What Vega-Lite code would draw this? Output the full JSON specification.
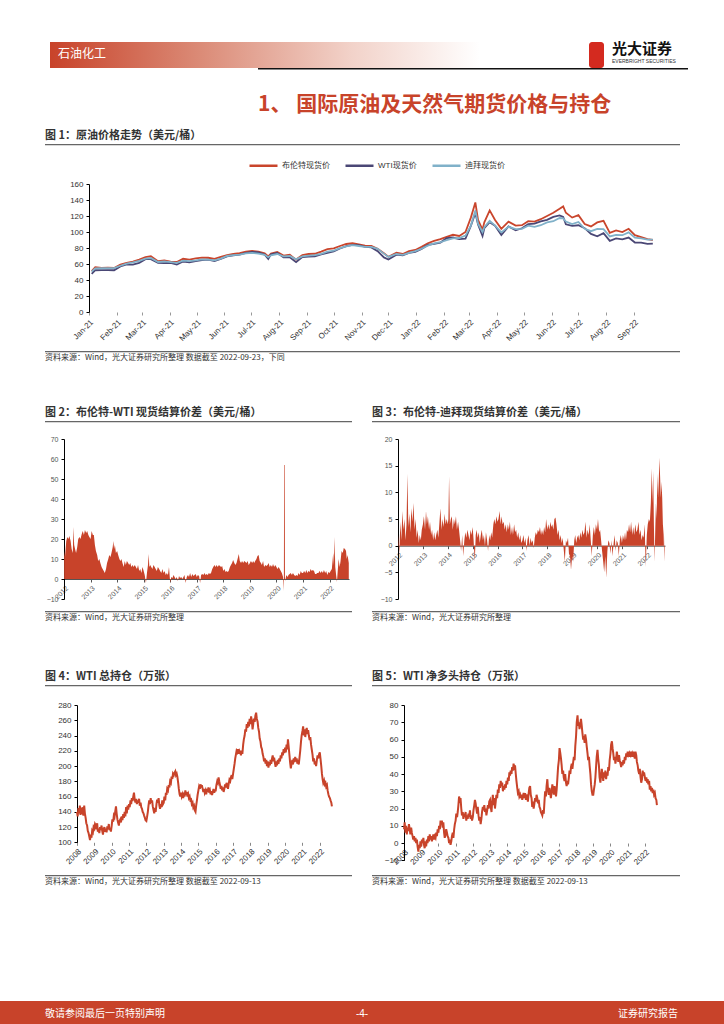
{
"$schema": "https://vega.github.io/schema/vega-lite/v6.json",
"padding": {"left": 0, "top": 42, "right": 0, "bottom": 0},
"background": "white",
"spacing": 0,
"bounds": "flush",
"resolve": {"scale": {"color": "independent"}, "legend": {"color": "independent"}},
"config": {
  "view": {"stroke": null},
  "font": "Liberation Sans, Noto Sans CJK SC",
  "axis": {"labelFont": "Liberation Sans", "grid": false, "title": null, "labelFlush": false, "labelOverlap": false},
  "title": {"font": "Noto Sans CJK SC", "color": "#333333", "fontWeight": "bold", "fontSize": 11, "anchor": "start"}
},
"vconcat": [
  {"hconcat": [
    {"width": 50, "height": 26, "data": {"values": []}, "mark": "point", "encoding": {}},
    {"width": 430, "height": 26, "data": {"values": [{}]},
     "mark": {"type": "rect", "fill": {"gradient": "linear", "x1": 0, "x2": 1, "y1": 0, "y2": 0, "stops": [{"offset": 0, "color": "#c8432a"}, {"offset": 0.35, "color": "#db8b77"}, {"offset": 0.7, "color": "#f2d2c9"}, {"offset": 1, "color": "#ffffff"}]}},
     "encoding": {},
     "title": {"text": "石油化工", "orient": "top", "anchor": "start", "offset": -19, "dx": 8, "color": "#ffffff", "fontSize": 12, "fontWeight": "normal"}},
    {"width": 109, "height": 26, "data": {"values": []}, "mark": "point", "encoding": {}},
    {"width": 15, "height": 26, "data": {"values": []}, "mark": "point", "encoding": {}, "view": {"fill": "#d42a1f", "cornerRadius": 3}},
    {"width": 8, "height": 26, "data": {"values": []}, "mark": "point", "encoding": {}},
    {"width": 72, "height": 26, "data": {"values": []}, "mark": "point", "encoding": {},
     "title": {"text": "光大证券", "subtitle": "EVERBRIGHT SECURITIES", "orient": "top", "anchor": "start", "offset": -22, "fontSize": 15, "color": "#111111", "subtitleFontSize": 5, "subtitleColor": "#333333", "subtitleFont": "Liberation Sans", "subtitlePadding": 2}}
  ], "spacing": 0, "bounds": "flush"},
  {"width": 1, "height": 26, "data": {"values": []}, "mark": "point", "encoding": {}},
  {"hconcat": [
    {"width": 258, "height": 1.5, "data": {"values": []}, "mark": "point", "encoding": {}},
    {"width": 430, "height": 1.5, "data": {"values": []}, "mark": "point", "encoding": {}, "view": {"fill": "#111111"},
     "title": {"text": "1、 国际原油及天然气期货价格与持仓", "orient": "bottom", "anchor": "start", "offset": 24, "fontSize": 21, "color": "#c8432a", "fontWeight": "bold"}}
  ], "spacing": 0, "bounds": "flush"},
  {"width": 1, "height": 76, "data": {"values": []}, "mark": "point", "encoding": {}},
  {"hconcat": [
    {"width": 45, "height": 1.2, "data": {"values": []}, "mark": "point", "encoding": {}},
    {"width": 635, "height": 1.2, "data": {"values": []}, "mark": "point", "encoding": {}, "view": {"fill": "#666666"},
     "title": {"text": "图 1：原油价格走势（美元/桶）", "orient": "top", "offset": 3}}
  ], "spacing": 0, "bounds": "flush"},
  {"width": 1, "height": 39.5, "data": {"values": []}, "mark": "point", "encoding": {}},
  {"hconcat": [
    {"width": 89, "height": 128, "data": {"values": []}, "mark": "point", "encoding": {}},
    {"width": 571, "height": 128,
     "data": {"values": [
{"d":"2021-01-04","b":51.1,"w":47.6,"u":50.5},{"d":"2021-01-08","b":55.9,"w":52.2,"u":54.5},{"d":"2021-01-15","b":55.2,"w":52.4,"u":54.7},{"d":"2021-01-22","b":55.4,"w":52.3,"u":54.9},{"d":"2021-01-29","b":55.0,"w":52.2,"u":54.8},
{"d":"2021-02-05","b":59.3,"w":56.9,"u":57.8},{"d":"2021-02-12","b":61.5,"w":59.5,"u":60.5},{"d":"2021-02-19","b":63.0,"w":59.2,"u":62.0},{"d":"2021-02-26","b":65.5,"w":61.5,"u":63.8},
{"d":"2021-03-05","b":68.5,"w":66.1,"u":66.8},{"d":"2021-03-11","b":69.6,"w":66.0,"u":67.5},{"d":"2021-03-19","b":63.5,"w":61.4,"u":62.5},{"d":"2021-03-26","b":64.5,"w":61.0,"u":63.2},
{"d":"2021-04-02","b":63.0,"w":61.5,"u":62.3},{"d":"2021-04-09","b":62.5,"w":59.3,"u":61.5},{"d":"2021-04-16","b":66.5,"w":63.1,"u":64.2},{"d":"2021-04-23","b":65.5,"w":62.1,"u":63.5},{"d":"2021-04-30","b":67.0,"w":63.6,"u":64.5},
{"d":"2021-05-07","b":68.0,"w":64.9,"u":65.8},{"d":"2021-05-14","b":67.8,"w":65.4,"u":65.5},{"d":"2021-05-21","b":66.5,"w":63.6,"u":64.5},{"d":"2021-05-28","b":69.0,"w":66.3,"u":66.8},
{"d":"2021-06-04","b":71.0,"w":69.6,"u":70.0},{"d":"2021-06-11","b":72.5,"w":70.9,"u":71.0},{"d":"2021-06-18","b":73.5,"w":71.6,"u":71.8},{"d":"2021-06-25","b":75.5,"w":74.0,"u":73.2},
{"d":"2021-07-02","b":76.5,"w":75.2,"u":74.0},{"d":"2021-07-09","b":75.5,"w":74.6,"u":73.0},{"d":"2021-07-16","b":73.5,"w":71.8,"u":71.5},{"d":"2021-07-20","b":69.5,"w":66.4,"u":68.5},{"d":"2021-07-23","b":73.0,"w":72.1,"u":70.8},{"d":"2021-07-30","b":75.0,"w":73.9,"u":72.5},
{"d":"2021-08-06","b":70.5,"w":68.3,"u":69.5},{"d":"2021-08-13","b":71.5,"w":68.4,"u":70.0},{"d":"2021-08-20","b":65.5,"w":62.3,"u":66.0},{"d":"2021-08-27","b":71.0,"w":68.7,"u":69.5},
{"d":"2021-09-03","b":72.5,"w":69.3,"u":70.5},{"d":"2021-09-10","b":72.8,"w":69.7,"u":71.0},{"d":"2021-09-17","b":75.5,"w":72.0,"u":72.8},{"d":"2021-09-24","b":78.5,"w":74.0,"u":75.5},
{"d":"2021-10-01","b":79.5,"w":75.9,"u":76.8},{"d":"2021-10-08","b":82.5,"w":79.4,"u":79.8},{"d":"2021-10-15","b":85.0,"w":82.3,"u":82.0},{"d":"2021-10-22","b":86.0,"w":83.8,"u":83.5},{"d":"2021-10-29","b":84.5,"w":83.6,"u":82.5},
{"d":"2021-11-05","b":83.0,"w":81.3,"u":81.5},{"d":"2021-11-12","b":82.5,"w":80.8,"u":81.5},{"d":"2021-11-19","b":79.0,"w":76.1,"u":79.0},{"d":"2021-11-26","b":73.5,"w":68.2,"u":73.0},
{"d":"2021-12-01","b":69.0,"w":65.6,"u":68.8},{"d":"2021-12-10","b":74.0,"w":71.7,"u":72.5},{"d":"2021-12-17","b":72.5,"w":70.9,"u":71.5},{"d":"2021-12-24","b":76.0,"w":73.8,"u":73.8},{"d":"2021-12-31","b":77.5,"w":75.2,"u":76.0},
{"d":"2022-01-07","b":81.5,"w":78.9,"u":79.0},{"d":"2022-01-14","b":86.0,"w":83.8,"u":83.0},{"d":"2022-01-21","b":89.0,"w":85.1,"u":85.8},{"d":"2022-01-28","b":91.0,"w":86.8,"u":87.2},
{"d":"2022-02-04","b":94.0,"w":92.3,"u":89.8},{"d":"2022-02-11","b":96.5,"w":93.1,"u":92.0},{"d":"2022-02-18","b":95.0,"w":91.1,"u":92.5},{"d":"2022-02-25","b":100.0,"w":91.6,"u":95.5},
{"d":"2022-03-03","b":118.0,"w":107.7,"u":108.0},{"d":"2022-03-08","b":137.0,"w":123.7,"u":127.0},{"d":"2022-03-11","b":115.0,"w":109.3,"u":110.5},{"d":"2022-03-16","b":103.0,"w":95.0,"u":100.0},{"d":"2022-03-18","b":112.0,"w":104.7,"u":106.0},{"d":"2022-03-24","b":127.0,"w":112.3,"u":114.0},{"d":"2022-03-30","b":115.0,"w":107.8,"u":108.0},
{"d":"2022-04-06","b":104.0,"w":96.2,"u":99.5},{"d":"2022-04-14","b":113.0,"w":106.9,"u":106.5},{"d":"2022-04-22","b":108.0,"w":102.1,"u":103.5},{"d":"2022-04-29","b":108.5,"w":104.7,"u":104.0},
{"d":"2022-05-06","b":113.5,"w":109.8,"u":108.0},{"d":"2022-05-13","b":113.0,"w":110.5,"u":106.5},{"d":"2022-05-20","b":116.0,"w":113.2,"u":108.5},{"d":"2022-05-27","b":120.0,"w":115.1,"u":112.0},
{"d":"2022-06-03","b":124.0,"w":118.9,"u":113.5},{"d":"2022-06-10","b":129.0,"w":120.7,"u":117.5},{"d":"2022-06-14","b":132.0,"w":118.9,"u":117.0},{"d":"2022-06-17","b":124.0,"w":109.6,"u":113.0},{"d":"2022-06-24","b":118.0,"w":107.6,"u":110.0},
{"d":"2022-07-01","b":121.0,"w":108.4,"u":112.5},{"d":"2022-07-08","b":110.0,"w":104.8,"u":104.0},{"d":"2022-07-15","b":107.0,"w":97.6,"u":101.0},{"d":"2022-07-22","b":112.0,"w":94.7,"u":104.0},{"d":"2022-07-29","b":114.0,"w":98.6,"u":103.5},
{"d":"2022-08-05","b":99.0,"w":89.0,"u":94.5},{"d":"2022-08-12","b":102.0,"w":92.1,"u":96.5},{"d":"2022-08-19","b":100.0,"w":90.8,"u":96.0},{"d":"2022-08-26","b":104.0,"w":93.1,"u":99.5},
{"d":"2022-09-02","b":96.0,"w":86.9,"u":93.0},{"d":"2022-09-09","b":93.5,"w":86.8,"u":92.0},{"d":"2022-09-16","b":91.0,"w":85.1,"u":90.5},{"d":"2022-09-22","b":90.0,"w":85.5,"u":90.5}
     ]},
     "transform": [{"fold": ["b", "w", "u"], "as": ["s", "p"]}],
     "mark": {"type": "line", "strokeWidth": 1.8},
     "encoding": {
       "x": {"field": "d", "type": "temporal", "scale": {"type": "utc", "domain": ["2021-01-01", "2022-09-30"]},
             "axis": {"format": "%b-%y", "tickCount": {"interval": "month", "step": 1}, "labelAngle": -45, "labelAlign": "right", "labelBaseline": "top", "domain": false, "ticks": true, "tickSize": 3, "tickColor": "#999999", "labelFontSize": 8, "labelColor": "#333333", "labelPadding": 3}},
       "y": {"field": "p", "type": "quantitative", "scale": {"domain": [0, 160]},
             "axis": {"values": [0, 20, 40, 60, 80, 100, 120, 140, 160], "domain": true, "domainColor": "#000000", "ticks": true, "tickSize": 3, "tickColor": "#000000", "labelFontSize": 8, "labelColor": "#333333", "labelPadding": 3}},
       "color": {"field": "s", "type": "nominal", "scale": {"domain": ["b", "w", "u"], "range": ["#c9452c", "#4a4775", "#80b1c9"]},
             "legend": {"orient": "none", "legendX": 159, "legendY": -34, "direction": "horizontal", "title": null, "symbolType": "stroke", "symbolSize": 784, "symbolStrokeWidth": 2.5, "labelFontSize": 8, "labelColor": "#333333", "labelFont": "Liberation Sans, Noto Sans CJK SC", "columnPadding": 10, "labelOffset": 3,
                        "labelExpr": "datum.label == 'b' ? '布伦特现货价' : datum.label == 'w' ? 'WTI现货价' : '迪拜现货价'"}}
     }}
  ], "spacing": 0, "bounds": "flush", "resolve": {"scale": {"color": "independent"}, "legend": {"color": "independent"}}},
  {"width": 1, "height": 166.5, "data": {"values": []}, "mark": "point", "encoding": {}},
  {"hconcat": [
    {"width": 45, "height": 1.2, "data": {"values": []}, "mark": "point", "encoding": {}},
    {"width": 635, "height": 1.2, "data": {"values": []}, "mark": "point", "encoding": {}, "view": {"fill": "#666666"},
     "title": {"text": "资料来源：Wind，光大证券研究所整理 数据截至 2022-09-23，下同", "orient": "bottom", "offset": 2, "fontSize": 8, "fontWeight": "normal", "color": "#333333"}}
  ], "spacing": 0, "bounds": "flush"},
  {"width": 1, "height": 69.5, "data": {"values": []}, "mark": "point", "encoding": {}},
  {"hconcat": [
    {"width": 45, "height": 1.2, "data": {"values": []}, "mark": "point", "encoding": {}},
    {"width": 307, "height": 1.2, "data": {"values": []}, "mark": "point", "encoding": {}, "view": {"fill": "#666666"},
     "title": {"text": "图 2：布伦特-WTI 现货结算价差（美元/桶）", "orient": "top", "offset": 3}},
    {"width": 20, "height": 1.2, "data": {"values": []}, "mark": "point", "encoding": {}},
    {"width": 308, "height": 1.2, "data": {"values": []}, "mark": "point", "encoding": {}, "view": {"fill": "#666666"},
     "title": {"text": "图 3：布伦特-迪拜现货结算价差（美元/桶）", "orient": "top", "offset": 3}}
  ], "spacing": 0, "bounds": "flush"},
  {"width": 1, "height": 17.5, "data": {"values": []}, "mark": "point", "encoding": {}},
  {"hconcat": [
    {"width": 64, "height": 160, "data": {"values": []}, "mark": "point", "encoding": {}},
    {"width": 285, "height": 160,
     "data": {"values": [
{"d":"2012-01-03","v":14},{"d":"2012-01-15","v":11},{"d":"2012-02-01","v":19},{"d":"2012-02-15","v":21},{"d":"2012-03-01","v":20},{"d":"2012-03-15","v":21.5},{"d":"2012-04-01","v":19},{"d":"2012-04-15","v":15},{"d":"2012-05-01","v":13},{"d":"2012-05-10","v":26},{"d":"2012-05-20","v":17},{"d":"2012-06-01","v":15},{"d":"2012-06-15","v":13},{"d":"2012-07-01","v":16},{"d":"2012-07-15","v":20},{"d":"2012-08-01","v":21},{"d":"2012-08-15","v":20},{"d":"2012-09-01","v":22.5},{"d":"2012-09-15","v":24},{"d":"2012-10-01","v":22},{"d":"2012-10-15","v":24.5},{"d":"2012-11-01","v":23},{"d":"2012-11-15","v":24},{"d":"2012-12-01","v":22},{"d":"2012-12-15","v":21},
{"d":"2013-01-01","v":20},{"d":"2013-01-15","v":24},{"d":"2013-02-01","v":22},{"d":"2013-02-15","v":22},{"d":"2013-03-01","v":17},{"d":"2013-03-15","v":14},{"d":"2013-04-01","v":12},{"d":"2013-04-15","v":9},{"d":"2013-05-01","v":10},{"d":"2013-05-15","v":8},{"d":"2013-06-01","v":6},{"d":"2013-06-15","v":5},{"d":"2013-07-01","v":4},{"d":"2013-07-15","v":3},{"d":"2013-08-01","v":5},{"d":"2013-08-15","v":8},{"d":"2013-09-01","v":10},{"d":"2013-09-15","v":12},{"d":"2013-10-01","v":11},{"d":"2013-10-15","v":13},{"d":"2013-11-01","v":16},{"d":"2013-11-10","v":19},{"d":"2013-11-20","v":15},{"d":"2013-12-01","v":17},{"d":"2013-12-15","v":13},
{"d":"2014-01-01","v":14},{"d":"2014-01-15","v":12},{"d":"2014-02-01","v":10},{"d":"2014-02-15","v":9},{"d":"2014-03-01","v":10},{"d":"2014-03-15","v":8},{"d":"2014-04-01","v":6},{"d":"2014-04-15","v":9},{"d":"2014-05-01","v":7},{"d":"2014-05-15","v":9},{"d":"2014-06-01","v":8},{"d":"2014-06-15","v":7},{"d":"2014-07-01","v":8},{"d":"2014-07-15","v":6},{"d":"2014-08-01","v":7},{"d":"2014-08-15","v":6},{"d":"2014-09-01","v":7},{"d":"2014-09-15","v":6},{"d":"2014-10-01","v":5},{"d":"2014-10-15","v":7},{"d":"2014-11-01","v":4},{"d":"2014-11-15","v":5},{"d":"2014-12-01","v":3},{"d":"2014-12-15","v":6},
{"d":"2015-01-01","v":4},{"d":"2015-01-15","v":2},{"d":"2015-02-01","v":-2},{"d":"2015-02-15","v":3},{"d":"2015-03-01","v":7},{"d":"2015-03-10","v":12.5},{"d":"2015-03-20","v":6},{"d":"2015-04-01","v":7},{"d":"2015-04-15","v":6},{"d":"2015-05-01","v":5},{"d":"2015-05-15","v":7},{"d":"2015-06-01","v":6},{"d":"2015-06-15","v":5},{"d":"2015-07-01","v":4},{"d":"2015-07-15","v":6},{"d":"2015-08-01","v":5},{"d":"2015-08-15","v":4},{"d":"2015-09-01","v":3},{"d":"2015-09-15","v":5},{"d":"2015-10-01","v":3},{"d":"2015-10-15","v":4},{"d":"2015-11-01","v":2},{"d":"2015-11-15","v":3},{"d":"2015-12-01","v":2},{"d":"2015-12-15","v":6},
{"d":"2016-01-01","v":-2},{"d":"2016-01-15","v":1},{"d":"2016-02-01","v":0.5},{"d":"2016-02-15","v":2},{"d":"2016-03-01","v":1},{"d":"2016-03-15","v":0},{"d":"2016-04-01","v":1},{"d":"2016-04-15","v":-1},{"d":"2016-05-01","v":1.5},{"d":"2016-05-15","v":0.5},{"d":"2016-06-01","v":1},{"d":"2016-06-15","v":0},{"d":"2016-07-01","v":1},{"d":"2016-07-15","v":2},{"d":"2016-08-01","v":-2},{"d":"2016-08-15","v":1},{"d":"2016-09-01","v":2},{"d":"2016-09-15","v":1},{"d":"2016-10-01","v":3},{"d":"2016-10-15","v":1},{"d":"2016-11-01","v":2.5},{"d":"2016-11-15","v":1.5},{"d":"2016-12-01","v":2},{"d":"2016-12-15","v":2.5},
{"d":"2017-01-01","v":1},{"d":"2017-01-15","v":2},{"d":"2017-02-01","v":1.5},{"d":"2017-02-15","v":-2},{"d":"2017-03-01","v":2},{"d":"2017-03-15","v":2.5},{"d":"2017-04-01","v":2},{"d":"2017-04-15","v":3},{"d":"2017-05-01","v":2},{"d":"2017-05-15","v":2.5},{"d":"2017-06-01","v":2},{"d":"2017-06-15","v":3},{"d":"2017-07-01","v":2.5},{"d":"2017-07-15","v":3},{"d":"2017-08-01","v":5},{"d":"2017-08-15","v":6},{"d":"2017-09-01","v":7},{"d":"2017-09-15","v":6},{"d":"2017-10-01","v":7},{"d":"2017-10-15","v":6},{"d":"2017-11-01","v":7},{"d":"2017-11-15","v":6.5},{"d":"2017-12-01","v":6},{"d":"2017-12-15","v":6.5},
{"d":"2018-01-01","v":4},{"d":"2018-01-15","v":5},{"d":"2018-02-01","v":3.5},{"d":"2018-02-15","v":4},{"d":"2018-03-01","v":3.5},{"d":"2018-03-15","v":4},{"d":"2018-04-01","v":6},{"d":"2018-04-15","v":7},{"d":"2018-05-01","v":8},{"d":"2018-05-15","v":9.5},{"d":"2018-06-01","v":8},{"d":"2018-06-15","v":7},{"d":"2018-07-01","v":8},{"d":"2018-07-15","v":10},{"d":"2018-08-01","v":12.5},{"d":"2018-08-15","v":9},{"d":"2018-09-01","v":8},{"d":"2018-09-15","v":9},{"d":"2018-10-01","v":8},{"d":"2018-10-15","v":9},{"d":"2018-11-01","v":8.5},{"d":"2018-11-15","v":8},{"d":"2018-12-01","v":9},{"d":"2018-12-15","v":7},
{"d":"2019-01-01","v":8},{"d":"2019-01-15","v":9},{"d":"2019-02-01","v":8},{"d":"2019-02-15","v":9},{"d":"2019-03-01","v":8},{"d":"2019-03-15","v":9},{"d":"2019-04-01","v":10},{"d":"2019-04-15","v":11.5},{"d":"2019-05-01","v":12},{"d":"2019-05-15","v":9},{"d":"2019-06-01","v":8},{"d":"2019-06-15","v":7},{"d":"2019-07-01","v":9},{"d":"2019-07-15","v":6},{"d":"2019-08-01","v":7},{"d":"2019-08-15","v":6.5},{"d":"2019-09-01","v":7},{"d":"2019-09-15","v":8},{"d":"2019-10-01","v":6},{"d":"2019-10-15","v":7},{"d":"2019-11-01","v":6},{"d":"2019-11-15","v":7.5},{"d":"2019-12-01","v":6},{"d":"2019-12-15","v":7},
{"d":"2020-01-01","v":6},{"d":"2020-01-15","v":5},{"d":"2020-02-01","v":6},{"d":"2020-02-15","v":5},{"d":"2020-03-01","v":4},{"d":"2020-03-15","v":3},{"d":"2020-04-01","v":1},{"d":"2020-04-12","v":-6},{"d":"2020-04-16","v":57},{"d":"2020-04-24","v":57},{"d":"2020-04-27","v":1},{"d":"2020-05-01","v":-1},{"d":"2020-05-15","v":2},{"d":"2020-06-01","v":1},{"d":"2020-06-15","v":2},{"d":"2020-07-01","v":2.5},{"d":"2020-07-15","v":3},{"d":"2020-08-01","v":2},{"d":"2020-08-15","v":3},{"d":"2020-09-01","v":2},{"d":"2020-09-15","v":1.5},{"d":"2020-10-01","v":2},{"d":"2020-10-15","v":1.5},{"d":"2020-11-01","v":3},{"d":"2020-11-15","v":2},{"d":"2020-12-01","v":4},{"d":"2020-12-15","v":3},
{"d":"2021-01-01","v":3},{"d":"2021-01-15","v":4},{"d":"2021-02-01","v":3},{"d":"2021-02-15","v":4.5},{"d":"2021-03-01","v":3},{"d":"2021-03-15","v":4},{"d":"2021-04-01","v":3.5},{"d":"2021-04-15","v":5},{"d":"2021-05-01","v":4},{"d":"2021-05-15","v":4.5},{"d":"2021-06-01","v":4},{"d":"2021-06-15","v":2.5},{"d":"2021-07-01","v":2.5},{"d":"2021-07-15","v":3},{"d":"2021-08-01","v":3},{"d":"2021-08-15","v":4},{"d":"2021-09-01","v":3},{"d":"2021-09-15","v":4},{"d":"2021-10-01","v":3},{"d":"2021-10-15","v":4.5},{"d":"2021-11-01","v":3},{"d":"2021-11-15","v":4},{"d":"2021-12-01","v":2},{"d":"2021-12-15","v":3.5},
{"d":"2022-01-01","v":3},{"d":"2022-01-15","v":4},{"d":"2022-02-01","v":5},{"d":"2022-02-20","v":13},{"d":"2022-03-01","v":7},{"d":"2022-03-10","v":21},{"d":"2022-03-20","v":6},{"d":"2022-04-01","v":2},{"d":"2022-04-12","v":-1.5},{"d":"2022-04-25","v":5},{"d":"2022-05-05","v":10},{"d":"2022-05-20","v":6},{"d":"2022-06-01","v":9},{"d":"2022-06-15","v":14},{"d":"2022-07-01","v":13},{"d":"2022-07-15","v":15.5},{"d":"2022-08-01","v":15},{"d":"2022-08-15","v":14},{"d":"2022-08-25","v":10},{"d":"2022-09-05","v":12},{"d":"2022-09-22","v":8}
     ]},
     "mark": {"type": "area", "color": "#c8432a"},
     "encoding": {
       "x": {"field": "d", "type": "temporal", "scale": {"type": "utc", "domain": ["2012-01-01", "2022-09-25"]},
             "axis": {"format": "%Y", "tickCount": {"interval": "year", "step": 1}, "labelAngle": -45, "labelAlign": "right", "labelBaseline": "top", "offset": -20, "domain": true, "domainColor": "#555555", "ticks": true, "tickSize": 3, "tickColor": "#555555", "labelFontSize": 7, "labelColor": "#555555", "labelPadding": 2}},
       "y": {"field": "v", "type": "quantitative", "scale": {"domain": [-10, 70]},
             "axis": {"values": [-10, 0, 10, 20, 30, 40, 50, 60, 70], "domain": true, "domainColor": "#000000", "ticks": true, "tickSize": 3, "tickColor": "#000000", "labelFontSize": 7, "labelColor": "#555555", "labelPadding": 3}},
       "y2": {"datum": 0}
     }},
    {"width": 49, "height": 160, "data": {"values": []}, "mark": "point", "encoding": {}},
    {"width": 267, "height": 160,
     "data": {"values": [
{"d":"2012-01-05","v":2},{"d":"2012-01-20","v":-1.5},{"d":"2012-02-05","v":4.5},{"d":"2012-02-20","v":1},{"d":"2012-03-05","v":6.5},{"d":"2012-03-20","v":3},{"d":"2012-04-05","v":5},{"d":"2012-04-20","v":1},{"d":"2012-05-05","v":4},{"d":"2012-05-18","v":13.5},{"d":"2012-06-01","v":3.5},{"d":"2012-06-15","v":6},{"d":"2012-07-01","v":2.5},{"d":"2012-07-15","v":7},{"d":"2012-08-01","v":4.5},{"d":"2012-08-15","v":8},{"d":"2012-09-01","v":3},{"d":"2012-09-15","v":5},{"d":"2012-10-01","v":1.5},{"d":"2012-10-15","v":3},{"d":"2012-11-01","v":0.5},{"d":"2012-11-15","v":2},{"d":"2012-12-01","v":1},{"d":"2012-12-15","v":3},
{"d":"2013-01-01","v":4},{"d":"2013-01-15","v":5.5},{"d":"2013-02-01","v":3},{"d":"2013-02-15","v":6.5},{"d":"2013-03-01","v":4},{"d":"2013-03-15","v":5.5},{"d":"2013-04-01","v":3},{"d":"2013-04-15","v":4.5},{"d":"2013-05-01","v":2},{"d":"2013-05-15","v":3},{"d":"2013-06-01","v":1},{"d":"2013-06-15","v":2.5},{"d":"2013-07-01","v":1},{"d":"2013-07-15","v":2},{"d":"2013-08-01","v":3},{"d":"2013-08-15","v":1.5},{"d":"2013-09-01","v":4.5},{"d":"2013-09-15","v":7},{"d":"2013-10-01","v":3},{"d":"2013-10-15","v":5},{"d":"2013-11-01","v":3.5},{"d":"2013-11-15","v":6},{"d":"2013-12-01","v":4},{"d":"2013-12-15","v":5},
{"d":"2014-01-01","v":4},{"d":"2014-01-10","v":5},{"d":"2014-01-20","v":13},{"d":"2014-02-01","v":4},{"d":"2014-02-15","v":5},{"d":"2014-03-01","v":5.5},{"d":"2014-03-15","v":3},{"d":"2014-04-01","v":5},{"d":"2014-04-15","v":4},{"d":"2014-05-01","v":5.5},{"d":"2014-05-15","v":3},{"d":"2014-06-01","v":4.5},{"d":"2014-06-15","v":3},{"d":"2014-07-01","v":1},{"d":"2014-07-15","v":-1},{"d":"2014-08-01","v":2},{"d":"2014-08-15","v":-2},{"d":"2014-09-01","v":1},{"d":"2014-09-15","v":2.5},{"d":"2014-10-01","v":1.5},{"d":"2014-10-15","v":3},{"d":"2014-11-01","v":2},{"d":"2014-11-15","v":1},{"d":"2014-12-01","v":3},{"d":"2014-12-15","v":2},
{"d":"2015-01-01","v":3.5},{"d":"2015-01-15","v":1},{"d":"2015-02-01","v":-3},{"d":"2015-02-15","v":2},{"d":"2015-03-01","v":3},{"d":"2015-03-15","v":1.5},{"d":"2015-04-01","v":2.5},{"d":"2015-04-15","v":0.5},{"d":"2015-05-01","v":2},{"d":"2015-05-15","v":3},{"d":"2015-06-01","v":1},{"d":"2015-06-15","v":2},{"d":"2015-07-01","v":0},{"d":"2015-07-15","v":2.5},{"d":"2015-08-01","v":1},{"d":"2015-08-15","v":-1},{"d":"2015-09-01","v":2},{"d":"2015-09-15","v":1},{"d":"2015-10-01","v":2.5},{"d":"2015-10-15","v":1.5},{"d":"2015-11-01","v":4},{"d":"2015-11-15","v":5},{"d":"2015-12-01","v":4},{"d":"2015-12-15","v":5.5},
{"d":"2016-01-01","v":4.5},{"d":"2016-01-15","v":5},{"d":"2016-02-01","v":6.5},{"d":"2016-02-15","v":4},{"d":"2016-03-01","v":5.5},{"d":"2016-03-15","v":4},{"d":"2016-04-01","v":4.5},{"d":"2016-04-15","v":3},{"d":"2016-05-01","v":4},{"d":"2016-05-15","v":2.5},{"d":"2016-06-01","v":4},{"d":"2016-06-15","v":3},{"d":"2016-07-01","v":4.5},{"d":"2016-07-15","v":2},{"d":"2016-08-01","v":3.5},{"d":"2016-08-15","v":2},{"d":"2016-09-01","v":4},{"d":"2016-09-15","v":2.5},{"d":"2016-10-01","v":3},{"d":"2016-10-15","v":1.5},{"d":"2016-11-01","v":2.5},{"d":"2016-11-15","v":1},{"d":"2016-12-01","v":2},{"d":"2016-12-15","v":0.5},
{"d":"2017-01-01","v":1},{"d":"2017-01-15","v":2},{"d":"2017-02-01","v":0.5},{"d":"2017-02-15","v":1.5},{"d":"2017-03-01","v":-1},{"d":"2017-03-15","v":1},{"d":"2017-04-01","v":2},{"d":"2017-04-15","v":0},{"d":"2017-05-01","v":1.5},{"d":"2017-05-15","v":0.5},{"d":"2017-06-01","v":1},{"d":"2017-06-15","v":-0.5},{"d":"2017-07-01","v":1.5},{"d":"2017-07-15","v":2.5},{"d":"2017-08-01","v":2},{"d":"2017-08-15","v":3},{"d":"2017-09-01","v":2.5},{"d":"2017-09-15","v":3.5},{"d":"2017-10-01","v":2},{"d":"2017-10-15","v":3},{"d":"2017-11-01","v":2},{"d":"2017-11-15","v":3.5},{"d":"2017-12-01","v":2.5},{"d":"2017-12-15","v":5},
{"d":"2018-01-01","v":3},{"d":"2018-01-15","v":4},{"d":"2018-02-01","v":3},{"d":"2018-02-15","v":4.5},{"d":"2018-03-01","v":3.5},{"d":"2018-03-15","v":4},{"d":"2018-04-01","v":3},{"d":"2018-04-15","v":5},{"d":"2018-05-01","v":5.3},{"d":"2018-05-15","v":4},{"d":"2018-06-01","v":2},{"d":"2018-06-15","v":3},{"d":"2018-07-01","v":1},{"d":"2018-07-15","v":2},{"d":"2018-08-01","v":0.5},{"d":"2018-08-15","v":1.5},{"d":"2018-09-01","v":-1},{"d":"2018-09-15","v":-3},{"d":"2018-10-01","v":1},{"d":"2018-10-15","v":0.5},{"d":"2018-11-01","v":1.5},{"d":"2018-11-15","v":-1.5},{"d":"2018-12-01","v":-2},{"d":"2018-12-15","v":-4.5},
{"d":"2019-01-01","v":-2},{"d":"2019-01-15","v":-3},{"d":"2019-02-01","v":1},{"d":"2019-02-15","v":2},{"d":"2019-03-01","v":0.5},{"d":"2019-03-15","v":1.5},{"d":"2019-04-01","v":2},{"d":"2019-04-15","v":1},{"d":"2019-05-01","v":2.5},{"d":"2019-05-15","v":1.5},{"d":"2019-06-01","v":3},{"d":"2019-06-15","v":2},{"d":"2019-07-01","v":2.5},{"d":"2019-07-15","v":4.5},{"d":"2019-08-01","v":1.5},{"d":"2019-08-15","v":3},{"d":"2019-09-01","v":2},{"d":"2019-09-15","v":4},{"d":"2019-10-01","v":1},{"d":"2019-10-15","v":-2},{"d":"2019-11-01","v":2},{"d":"2019-11-15","v":3.5},{"d":"2019-12-01","v":2},{"d":"2019-12-15","v":4},
{"d":"2020-01-01","v":3},{"d":"2020-01-15","v":5},{"d":"2020-02-01","v":2.5},{"d":"2020-02-15","v":3},{"d":"2020-03-01","v":1},{"d":"2020-03-15","v":-1},{"d":"2020-04-01","v":-3},{"d":"2020-04-15","v":-5},{"d":"2020-05-01","v":-2},{"d":"2020-05-15","v":-6},{"d":"2020-06-01","v":-1},{"d":"2020-06-15","v":1},{"d":"2020-07-01","v":0.5},{"d":"2020-07-15","v":-1.5},{"d":"2020-08-01","v":1},{"d":"2020-08-15","v":-2},{"d":"2020-09-01","v":0.5},{"d":"2020-09-15","v":2},{"d":"2020-10-01","v":-1},{"d":"2020-10-15","v":1},{"d":"2020-11-01","v":0.5},{"d":"2020-11-15","v":-2},{"d":"2020-12-01","v":1},{"d":"2020-12-15","v":2},
{"d":"2021-01-01","v":0.5},{"d":"2021-01-15","v":2},{"d":"2021-02-01","v":1},{"d":"2021-02-15","v":2.5},{"d":"2021-03-01","v":1},{"d":"2021-03-15","v":3},{"d":"2021-04-01","v":2.5},{"d":"2021-04-15","v":4},{"d":"2021-05-01","v":2.5},{"d":"2021-05-15","v":4.5},{"d":"2021-06-01","v":2},{"d":"2021-06-15","v":3.5},{"d":"2021-07-01","v":2},{"d":"2021-07-15","v":4},{"d":"2021-08-01","v":2.5},{"d":"2021-08-15","v":3},{"d":"2021-09-01","v":4.5},{"d":"2021-09-15","v":2},{"d":"2021-10-01","v":3},{"d":"2021-10-15","v":1},{"d":"2021-11-01","v":2},{"d":"2021-11-15","v":1.5},{"d":"2021-12-01","v":4},{"d":"2021-12-15","v":-4},
{"d":"2022-01-01","v":2},{"d":"2022-01-15","v":4},{"d":"2022-02-01","v":5},{"d":"2022-02-15","v":4.5},{"d":"2022-03-01","v":8},{"d":"2022-03-15","v":14.5},{"d":"2022-03-25","v":8},{"d":"2022-04-05","v":14},{"d":"2022-04-15","v":4},{"d":"2022-04-25","v":-3},{"d":"2022-05-05","v":3},{"d":"2022-05-15","v":8},{"d":"2022-05-25","v":5},{"d":"2022-06-05","v":13.5},{"d":"2022-06-15","v":9},{"d":"2022-06-25","v":12},{"d":"2022-07-05","v":16.5},{"d":"2022-07-15","v":13},{"d":"2022-07-25","v":9},{"d":"2022-08-05","v":12},{"d":"2022-08-15","v":9},{"d":"2022-08-25","v":4},{"d":"2022-09-05","v":2},{"d":"2022-09-15","v":-3},{"d":"2022-09-22","v":2}
     ]},
     "mark": {"type": "area", "color": "#c8432a"},
     "encoding": {
       "x": {"field": "d", "type": "temporal", "scale": {"type": "utc", "domain": ["2012-01-01", "2022-09-25"]},
             "axis": {"format": "%Y", "tickCount": {"interval": "year", "step": 1}, "labelAngle": -45, "labelAlign": "right", "labelBaseline": "top", "offset": -53.3, "domain": true, "domainColor": "#555555", "ticks": true, "tickSize": 3, "tickColor": "#555555", "labelFontSize": 7, "labelColor": "#555555", "labelPadding": 2}},
       "y": {"field": "v", "type": "quantitative", "scale": {"domain": [-10, 20]},
             "axis": {"values": [-10, -5, 0, 5, 10, 15, 20], "domain": true, "domainColor": "#000000", "ticks": true, "tickSize": 3, "tickColor": "#000000", "labelFontSize": 7, "labelColor": "#555555", "labelPadding": 3}},
       "y2": {"datum": 0}
     }}
  ], "spacing": 0, "bounds": "flush"},
  {"width": 1, "height": 172, "data": {"values": []}, "mark": "point", "encoding": {}},
  {"hconcat": [
    {"width": 45, "height": 1.2, "data": {"values": []}, "mark": "point", "encoding": {}},
    {"width": 307, "height": 1.2, "data": {"values": []}, "mark": "point", "encoding": {}, "view": {"fill": "#666666"},
     "title": {"text": "资料来源：Wind，光大证券研究所整理", "orient": "bottom", "offset": 2, "fontSize": 8, "fontWeight": "normal", "color": "#333333"}},
    {"width": 20, "height": 1.2, "data": {"values": []}, "mark": "point", "encoding": {}},
    {"width": 308, "height": 1.2, "data": {"values": []}, "mark": "point", "encoding": {}, "view": {"fill": "#666666"},
     "title": {"text": "资料来源：Wind，光大证券研究所整理", "orient": "bottom", "offset": 2, "fontSize": 8, "fontWeight": "normal", "color": "#333333"}}
  ], "spacing": 0, "bounds": "flush"},
  {"width": 1, "height": 73.5, "data": {"values": []}, "mark": "point", "encoding": {}},
  {"hconcat": [
    {"width": 45, "height": 1.2, "data": {"values": []}, "mark": "point", "encoding": {}},
    {"width": 307, "height": 1.2, "data": {"values": []}, "mark": "point", "encoding": {}, "view": {"fill": "#666666"},
     "title": {"text": "图 4：WTI 总持仓（万张）", "orient": "top", "offset": 3}},
    {"width": 20, "height": 1.2, "data": {"values": []}, "mark": "point", "encoding": {}},
    {"width": 308, "height": 1.2, "data": {"values": []}, "mark": "point", "encoding": {}, "view": {"fill": "#666666"},
     "title": {"text": "图 5：WTI 净多头持仓（万张）", "orient": "top", "offset": 3}}
  ], "spacing": 0, "bounds": "flush"},
  {"width": 1, "height": 19.5, "data": {"values": []}, "mark": "point", "encoding": {}},
  {"hconcat": [
    {"width": 77, "height": 155.3, "data": {"values": []}, "mark": "point", "encoding": {}},
    {"width": 255, "height": 137.3,
     "data": {"values": [
{"d":"2008-01-01","v":140},{"d":"2008-01-15","v":134},{"d":"2008-02-01","v":145},{"d":"2008-02-15","v":138},{"d":"2008-03-01","v":148},{"d":"2008-03-15","v":136},{"d":"2008-04-01","v":142},{"d":"2008-04-15","v":140},{"d":"2008-05-01","v":146},{"d":"2008-05-15","v":135},{"d":"2008-06-01","v":148},{"d":"2008-06-15","v":138},{"d":"2008-07-01","v":132},{"d":"2008-07-15","v":125},{"d":"2008-08-01","v":122},{"d":"2008-08-15","v":115},{"d":"2008-09-01","v":112},{"d":"2008-09-15","v":108},{"d":"2008-10-01","v":103},{"d":"2008-10-15","v":110},{"d":"2008-11-01","v":106},{"d":"2008-11-15","v":115},{"d":"2008-12-01","v":113},{"d":"2008-12-15","v":120},
{"d":"2009-01-01","v":118},{"d":"2009-01-15","v":124},{"d":"2009-02-01","v":122},{"d":"2009-02-15","v":117},{"d":"2009-03-01","v":125},{"d":"2009-03-15","v":114},{"d":"2009-04-01","v":118},{"d":"2009-04-15","v":112},{"d":"2009-05-01","v":120},{"d":"2009-05-15","v":116},{"d":"2009-06-01","v":122},{"d":"2009-06-15","v":115},{"d":"2009-07-01","v":110},{"d":"2009-07-15","v":117},{"d":"2009-08-01","v":120},{"d":"2009-08-15","v":114},{"d":"2009-09-01","v":118},{"d":"2009-09-15","v":113},{"d":"2009-10-01","v":121},{"d":"2009-10-15","v":117},{"d":"2009-11-01","v":124},{"d":"2009-11-15","v":116},{"d":"2009-12-01","v":119},{"d":"2009-12-15","v":114},
{"d":"2010-01-01","v":122},{"d":"2010-01-15","v":130},{"d":"2010-02-01","v":127},{"d":"2010-02-15","v":135},{"d":"2010-03-01","v":133},{"d":"2010-03-15","v":140},{"d":"2010-04-01","v":147},{"d":"2010-04-15","v":138},{"d":"2010-05-01","v":130},{"d":"2010-05-15","v":126},{"d":"2010-06-01","v":122},{"d":"2010-06-15","v":128},{"d":"2010-07-01","v":130},{"d":"2010-07-15","v":126},{"d":"2010-08-01","v":134},{"d":"2010-08-15","v":129},{"d":"2010-09-01","v":137},{"d":"2010-09-15","v":132},{"d":"2010-10-01","v":140},{"d":"2010-10-15","v":134},{"d":"2010-11-01","v":146},{"d":"2010-11-15","v":138},{"d":"2010-12-01","v":148},{"d":"2010-12-15","v":143},
{"d":"2011-01-01","v":150},{"d":"2011-01-15","v":146},{"d":"2011-02-01","v":155},{"d":"2011-02-15","v":150},{"d":"2011-03-01","v":158},{"d":"2011-03-15","v":154},{"d":"2011-04-01","v":160},{"d":"2011-04-15","v":165},{"d":"2011-05-01","v":156},{"d":"2011-05-15","v":152},{"d":"2011-06-01","v":157},{"d":"2011-06-15","v":150},{"d":"2011-07-01","v":155},{"d":"2011-07-15","v":152},{"d":"2011-08-01","v":157},{"d":"2011-08-15","v":148},{"d":"2011-09-01","v":152},{"d":"2011-09-15","v":146},{"d":"2011-10-01","v":144},{"d":"2011-10-15","v":140},{"d":"2011-11-01","v":138},{"d":"2011-11-15","v":135},{"d":"2011-12-01","v":132},{"d":"2011-12-15","v":129},
{"d":"2012-01-01","v":128},{"d":"2012-01-15","v":133},{"d":"2012-02-01","v":140},{"d":"2012-02-15","v":148},{"d":"2012-03-01","v":155},{"d":"2012-03-15","v":150},{"d":"2012-04-01","v":158},{"d":"2012-04-15","v":152},{"d":"2012-05-01","v":155},{"d":"2012-05-15","v":147},{"d":"2012-06-01","v":142},{"d":"2012-06-15","v":138},{"d":"2012-07-01","v":145},{"d":"2012-07-15","v":140},{"d":"2012-08-01","v":150},{"d":"2012-08-15","v":156},{"d":"2012-09-01","v":152},{"d":"2012-09-15","v":158},{"d":"2012-10-01","v":148},{"d":"2012-10-15","v":144},{"d":"2012-11-01","v":150},{"d":"2012-11-15","v":146},{"d":"2012-12-01","v":155},{"d":"2012-12-15","v":150},
{"d":"2013-01-01","v":152},{"d":"2013-01-15","v":160},{"d":"2013-02-01","v":155},{"d":"2013-02-15","v":165},{"d":"2013-03-01","v":162},{"d":"2013-03-15","v":170},{"d":"2013-04-01","v":168},{"d":"2013-04-15","v":175},{"d":"2013-05-01","v":172},{"d":"2013-05-15","v":180},{"d":"2013-06-01","v":178},{"d":"2013-06-15","v":186},{"d":"2013-07-01","v":183},{"d":"2013-07-15","v":190},{"d":"2013-08-01","v":188},{"d":"2013-08-15","v":191},{"d":"2013-09-01","v":193},{"d":"2013-09-15","v":188},{"d":"2013-10-01","v":190},{"d":"2013-10-15","v":186},{"d":"2013-11-01","v":178},{"d":"2013-11-15","v":170},{"d":"2013-12-01","v":163},{"d":"2013-12-15","v":160},
{"d":"2014-01-01","v":165},{"d":"2014-01-15","v":160},{"d":"2014-02-01","v":163},{"d":"2014-02-15","v":158},{"d":"2014-03-01","v":165},{"d":"2014-03-15","v":160},{"d":"2014-04-01","v":168},{"d":"2014-04-15","v":162},{"d":"2014-05-01","v":166},{"d":"2014-05-15","v":160},{"d":"2014-06-01","v":163},{"d":"2014-06-15","v":158},{"d":"2014-07-01","v":160},{"d":"2014-07-15","v":155},{"d":"2014-08-01","v":156},{"d":"2014-08-15","v":150},{"d":"2014-09-01","v":152},{"d":"2014-09-15","v":146},{"d":"2014-10-01","v":148},{"d":"2014-10-15","v":142},{"d":"2014-11-01","v":140},{"d":"2014-11-15","v":148},{"d":"2014-12-01","v":155},{"d":"2014-12-15","v":162},
{"d":"2015-01-01","v":168},{"d":"2015-01-15","v":173},{"d":"2015-02-01","v":170},{"d":"2015-02-15","v":176},{"d":"2015-03-01","v":172},{"d":"2015-03-15","v":175},{"d":"2015-04-01","v":170},{"d":"2015-04-15","v":166},{"d":"2015-05-01","v":170},{"d":"2015-05-15","v":165},{"d":"2015-06-01","v":168},{"d":"2015-06-15","v":163},{"d":"2015-07-01","v":170},{"d":"2015-07-15","v":166},{"d":"2015-08-01","v":172},{"d":"2015-08-15","v":165},{"d":"2015-09-01","v":168},{"d":"2015-09-15","v":163},{"d":"2015-10-01","v":167},{"d":"2015-10-15","v":162},{"d":"2015-11-01","v":166},{"d":"2015-11-15","v":170},{"d":"2015-12-01","v":165},{"d":"2015-12-15","v":168},
{"d":"2016-01-01","v":168},{"d":"2016-01-15","v":175},{"d":"2016-02-01","v":180},{"d":"2016-02-15","v":178},{"d":"2016-03-01","v":185},{"d":"2016-03-15","v":180},{"d":"2016-04-01","v":175},{"d":"2016-04-15","v":170},{"d":"2016-05-01","v":174},{"d":"2016-05-15","v":168},{"d":"2016-06-01","v":172},{"d":"2016-06-15","v":166},{"d":"2016-07-01","v":170},{"d":"2016-07-15","v":176},{"d":"2016-08-01","v":172},{"d":"2016-08-15","v":178},{"d":"2016-09-01","v":174},{"d":"2016-09-15","v":170},{"d":"2016-10-01","v":177},{"d":"2016-10-15","v":182},{"d":"2016-11-01","v":180},{"d":"2016-11-15","v":185},{"d":"2016-12-01","v":188},{"d":"2016-12-15","v":183},
{"d":"2017-01-01","v":190},{"d":"2017-01-15","v":196},{"d":"2017-02-01","v":203},{"d":"2017-02-15","v":210},{"d":"2017-03-01","v":215},{"d":"2017-03-15","v":220},{"d":"2017-04-01","v":218},{"d":"2017-04-15","v":222},{"d":"2017-05-01","v":216},{"d":"2017-05-15","v":220},{"d":"2017-06-01","v":218},{"d":"2017-06-15","v":214},{"d":"2017-07-01","v":220},{"d":"2017-07-15","v":216},{"d":"2017-08-01","v":228},{"d":"2017-08-15","v":235},{"d":"2017-09-01","v":240},{"d":"2017-09-15","v":248},{"d":"2017-10-01","v":245},{"d":"2017-10-15","v":255},{"d":"2017-11-01","v":250},{"d":"2017-11-15","v":258},{"d":"2017-12-01","v":252},{"d":"2017-12-15","v":262},
{"d":"2018-01-01","v":255},{"d":"2018-01-15","v":265},{"d":"2018-02-01","v":258},{"d":"2018-02-15","v":248},{"d":"2018-03-01","v":255},{"d":"2018-03-15","v":262},{"d":"2018-04-01","v":258},{"d":"2018-04-15","v":266},{"d":"2018-05-01","v":270},{"d":"2018-05-15","v":262},{"d":"2018-06-01","v":258},{"d":"2018-06-15","v":250},{"d":"2018-07-01","v":245},{"d":"2018-07-15","v":236},{"d":"2018-08-01","v":232},{"d":"2018-08-15","v":225},{"d":"2018-09-01","v":222},{"d":"2018-09-15","v":216},{"d":"2018-10-01","v":212},{"d":"2018-10-15","v":206},{"d":"2018-11-01","v":210},{"d":"2018-11-15","v":203},{"d":"2018-12-01","v":208},{"d":"2018-12-15","v":200},
{"d":"2019-01-01","v":206},{"d":"2019-01-15","v":198},{"d":"2019-02-01","v":205},{"d":"2019-02-15","v":201},{"d":"2019-03-01","v":208},{"d":"2019-03-15","v":203},{"d":"2019-04-01","v":210},{"d":"2019-04-15","v":214},{"d":"2019-05-01","v":206},{"d":"2019-05-15","v":211},{"d":"2019-06-01","v":204},{"d":"2019-06-15","v":199},{"d":"2019-07-01","v":206},{"d":"2019-07-15","v":201},{"d":"2019-08-01","v":208},{"d":"2019-08-15","v":203},{"d":"2019-09-01","v":210},{"d":"2019-09-15","v":206},{"d":"2019-10-01","v":214},{"d":"2019-10-15","v":210},{"d":"2019-11-01","v":218},{"d":"2019-11-15","v":214},{"d":"2019-12-01","v":222},{"d":"2019-12-15","v":217},
{"d":"2020-01-01","v":224},{"d":"2020-01-15","v":218},{"d":"2020-02-01","v":228},{"d":"2020-02-15","v":222},{"d":"2020-03-01","v":235},{"d":"2020-03-15","v":226},{"d":"2020-04-01","v":215},{"d":"2020-04-15","v":205},{"d":"2020-05-01","v":197},{"d":"2020-05-15","v":203},{"d":"2020-06-01","v":208},{"d":"2020-06-15","v":202},{"d":"2020-07-01","v":210},{"d":"2020-07-15","v":205},{"d":"2020-08-01","v":212},{"d":"2020-08-15","v":206},{"d":"2020-09-01","v":210},{"d":"2020-09-15","v":203},{"d":"2020-10-01","v":208},{"d":"2020-10-15","v":202},{"d":"2020-11-01","v":212},{"d":"2020-11-15","v":220},{"d":"2020-12-01","v":232},{"d":"2020-12-15","v":240},
{"d":"2021-01-01","v":246},{"d":"2021-01-15","v":252},{"d":"2021-02-01","v":240},{"d":"2021-02-15","v":248},{"d":"2021-03-01","v":238},{"d":"2021-03-15","v":246},{"d":"2021-04-01","v":250},{"d":"2021-04-15","v":242},{"d":"2021-05-01","v":247},{"d":"2021-05-15","v":240},{"d":"2021-06-01","v":234},{"d":"2021-06-15","v":238},{"d":"2021-07-01","v":228},{"d":"2021-07-15","v":222},{"d":"2021-08-01","v":215},{"d":"2021-08-15","v":206},{"d":"2021-09-01","v":210},{"d":"2021-09-15","v":202},{"d":"2021-10-01","v":206},{"d":"2021-10-15","v":200},{"d":"2021-11-01","v":208},{"d":"2021-11-15","v":214},{"d":"2021-12-01","v":210},{"d":"2021-12-15","v":215},
{"d":"2022-01-01","v":218},{"d":"2022-01-15","v":210},{"d":"2022-02-01","v":200},{"d":"2022-02-15","v":190},{"d":"2022-03-01","v":183},{"d":"2022-03-15","v":178},{"d":"2022-04-01","v":181},{"d":"2022-04-15","v":176},{"d":"2022-05-01","v":178},{"d":"2022-05-15","v":173},{"d":"2022-06-01","v":175},{"d":"2022-06-15","v":168},{"d":"2022-07-01","v":163},{"d":"2022-07-15","v":160},{"d":"2022-08-01","v":158},{"d":"2022-08-15","v":155},{"d":"2022-09-01","v":152},{"d":"2022-09-13","v":147}
     ]},
     "mark": {"type": "line", "color": "#c8432a", "strokeWidth": 2},
     "encoding": {
       "x": {"field": "d", "type": "temporal", "scale": {"type": "utc", "domain": ["2008-01-01", "2022-09-15"]},
             "axis": {"format": "%Y", "tickCount": {"interval": "year", "step": 1}, "labelAngle": -45, "labelAlign": "right", "labelBaseline": "top", "domain": false, "ticks": true, "tickSize": 3, "tickColor": "#888888", "labelFontSize": 8, "labelColor": "#333333", "labelPadding": 2}},
       "y": {"field": "v", "type": "quantitative", "scale": {"domain": [100, 280]},
             "axis": {"values": [100, 120, 140, 160, 180, 200, 220, 240, 260, 280], "domain": true, "domainColor": "#000000", "ticks": true, "tickSize": 3, "tickColor": "#000000", "labelFontSize": 8, "labelColor": "#333333", "labelPadding": 3}}
     }},
    {"width": 72, "height": 155.3, "data": {"values": []}, "mark": "point", "encoding": {}},
    {"width": 253, "height": 155.3,
     "data": {"values": [
{"d":"2008-01-01","v":8},{"d":"2008-01-15","v":12},{"d":"2008-02-01","v":6},{"d":"2008-02-15","v":10},{"d":"2008-03-01","v":5},{"d":"2008-03-15","v":9},{"d":"2008-04-01","v":7},{"d":"2008-04-15","v":11},{"d":"2008-05-01","v":8},{"d":"2008-05-15","v":5},{"d":"2008-06-01","v":9},{"d":"2008-06-15","v":6},{"d":"2008-07-01","v":4},{"d":"2008-07-15","v":2},{"d":"2008-08-01","v":4},{"d":"2008-08-15","v":1},{"d":"2008-09-01","v":3},{"d":"2008-09-15","v":0},{"d":"2008-10-01","v":2},{"d":"2008-10-15","v":-2},{"d":"2008-11-01","v":-5},{"d":"2008-11-15","v":-1},{"d":"2008-12-01","v":-3},{"d":"2008-12-15","v":1},
{"d":"2009-01-01","v":-2},{"d":"2009-01-15","v":2},{"d":"2009-02-01","v":0},{"d":"2009-02-15","v":3},{"d":"2009-03-01","v":-1},{"d":"2009-03-15","v":-3},{"d":"2009-04-01","v":1},{"d":"2009-04-15","v":-2},{"d":"2009-05-01","v":2},{"d":"2009-05-15","v":0},{"d":"2009-06-01","v":4},{"d":"2009-06-15","v":1},{"d":"2009-07-01","v":5},{"d":"2009-07-15","v":2},{"d":"2009-08-01","v":4},{"d":"2009-08-15","v":1},{"d":"2009-09-01","v":3},{"d":"2009-09-15","v":5},{"d":"2009-10-01","v":2},{"d":"2009-10-15","v":4},{"d":"2009-11-01","v":3},{"d":"2009-11-15","v":6},{"d":"2009-12-01","v":4},{"d":"2009-12-15","v":8},
{"d":"2010-01-01","v":6},{"d":"2010-01-15","v":10},{"d":"2010-02-01","v":8},{"d":"2010-02-15","v":13},{"d":"2010-03-01","v":11},{"d":"2010-03-15","v":13},{"d":"2010-04-01","v":9},{"d":"2010-04-15","v":12},{"d":"2010-05-01","v":6},{"d":"2010-05-15","v":3},{"d":"2010-06-01","v":5},{"d":"2010-06-15","v":8},{"d":"2010-07-01","v":6},{"d":"2010-07-15","v":4},{"d":"2010-08-01","v":3},{"d":"2010-08-15","v":0},{"d":"2010-09-01","v":2},{"d":"2010-09-15","v":-1},{"d":"2010-10-01","v":1},{"d":"2010-10-15","v":4},{"d":"2010-11-01","v":6},{"d":"2010-11-15","v":3},{"d":"2010-12-01","v":8},{"d":"2010-12-15","v":11},
{"d":"2011-01-01","v":13},{"d":"2011-01-15","v":17},{"d":"2011-02-01","v":15},{"d":"2011-02-15","v":18},{"d":"2011-03-01","v":22},{"d":"2011-03-15","v":27},{"d":"2011-04-01","v":25},{"d":"2011-04-15","v":26},{"d":"2011-05-01","v":20},{"d":"2011-05-15","v":16},{"d":"2011-06-01","v":18},{"d":"2011-06-15","v":14},{"d":"2011-07-01","v":17},{"d":"2011-07-15","v":15},{"d":"2011-08-01","v":18},{"d":"2011-08-15","v":13},{"d":"2011-09-01","v":16},{"d":"2011-09-15","v":14},{"d":"2011-10-01","v":17},{"d":"2011-10-15","v":15},{"d":"2011-11-01","v":19},{"d":"2011-11-15","v":14},{"d":"2011-12-01","v":16},{"d":"2011-12-15","v":13},
{"d":"2012-01-01","v":15},{"d":"2012-01-15","v":19},{"d":"2012-02-01","v":22},{"d":"2012-02-15","v":25},{"d":"2012-03-01","v":23},{"d":"2012-03-15","v":20},{"d":"2012-04-01","v":17},{"d":"2012-04-15","v":21},{"d":"2012-05-01","v":16},{"d":"2012-05-15","v":13},{"d":"2012-06-01","v":15},{"d":"2012-06-15","v":11},{"d":"2012-07-01","v":14},{"d":"2012-07-15","v":18},{"d":"2012-08-01","v":21},{"d":"2012-08-15","v":19},{"d":"2012-09-01","v":22},{"d":"2012-09-15","v":18},{"d":"2012-10-01","v":20},{"d":"2012-10-15","v":16},{"d":"2012-11-01","v":19},{"d":"2012-11-15","v":22},{"d":"2012-12-01","v":20},{"d":"2012-12-15","v":24},
{"d":"2013-01-01","v":25},{"d":"2013-01-15","v":21},{"d":"2013-02-01","v":18},{"d":"2013-02-15","v":24},{"d":"2013-03-01","v":28},{"d":"2013-03-15","v":22},{"d":"2013-04-01","v":26},{"d":"2013-04-15","v":20},{"d":"2013-05-01","v":24},{"d":"2013-05-15","v":28},{"d":"2013-06-01","v":26},{"d":"2013-06-15","v":31},{"d":"2013-07-01","v":29},{"d":"2013-07-15","v":34},{"d":"2013-08-01","v":32},{"d":"2013-08-15","v":36},{"d":"2013-09-01","v":33},{"d":"2013-09-15","v":35},{"d":"2013-10-01","v":30},{"d":"2013-10-15","v":33},{"d":"2013-11-01","v":31},{"d":"2013-11-15","v":34},{"d":"2013-12-01","v":32},{"d":"2013-12-15","v":36},
{"d":"2014-01-01","v":34},{"d":"2014-01-15","v":38},{"d":"2014-02-01","v":36},{"d":"2014-02-15","v":41},{"d":"2014-03-01","v":39},{"d":"2014-03-15","v":42},{"d":"2014-04-01","v":40},{"d":"2014-04-15","v":44},{"d":"2014-05-01","v":42},{"d":"2014-05-15","v":46},{"d":"2014-06-01","v":44},{"d":"2014-06-15","v":45},{"d":"2014-07-01","v":40},{"d":"2014-07-15","v":36},{"d":"2014-08-01","v":32},{"d":"2014-08-15","v":29},{"d":"2014-09-01","v":30},{"d":"2014-09-15","v":27},{"d":"2014-10-01","v":28},{"d":"2014-10-15","v":26},{"d":"2014-11-01","v":28},{"d":"2014-11-15","v":25},{"d":"2014-12-01","v":27},{"d":"2014-12-15","v":29},
{"d":"2015-01-01","v":26},{"d":"2015-01-15","v":29},{"d":"2015-02-01","v":25},{"d":"2015-02-15","v":28},{"d":"2015-03-01","v":27},{"d":"2015-03-15","v":24},{"d":"2015-04-01","v":29},{"d":"2015-04-15","v":32},{"d":"2015-05-01","v":33},{"d":"2015-05-15","v":28},{"d":"2015-06-01","v":26},{"d":"2015-06-15","v":21},{"d":"2015-07-01","v":24},{"d":"2015-07-15","v":20},{"d":"2015-08-01","v":23},{"d":"2015-08-15","v":26},{"d":"2015-09-01","v":24},{"d":"2015-09-15","v":28},{"d":"2015-10-01","v":26},{"d":"2015-10-15","v":23},{"d":"2015-11-01","v":25},{"d":"2015-11-15","v":21},{"d":"2015-12-01","v":20},{"d":"2015-12-15","v":18},
{"d":"2016-01-01","v":17},{"d":"2016-01-15","v":16},{"d":"2016-02-01","v":19},{"d":"2016-02-15","v":17},{"d":"2016-03-01","v":24},{"d":"2016-03-15","v":30},{"d":"2016-04-01","v":27},{"d":"2016-04-15","v":33},{"d":"2016-05-01","v":37},{"d":"2016-05-15","v":31},{"d":"2016-06-01","v":28},{"d":"2016-06-15","v":32},{"d":"2016-07-01","v":29},{"d":"2016-07-15","v":26},{"d":"2016-08-01","v":30},{"d":"2016-08-15","v":34},{"d":"2016-09-01","v":31},{"d":"2016-09-15","v":28},{"d":"2016-10-01","v":33},{"d":"2016-10-15","v":30},{"d":"2016-11-01","v":27},{"d":"2016-11-15","v":31},{"d":"2016-12-01","v":38},{"d":"2016-12-15","v":44},
{"d":"2017-01-01","v":48},{"d":"2017-01-15","v":55},{"d":"2017-02-01","v":52},{"d":"2017-02-15","v":49},{"d":"2017-03-01","v":45},{"d":"2017-03-15","v":40},{"d":"2017-04-01","v":42},{"d":"2017-04-15","v":38},{"d":"2017-05-01","v":36},{"d":"2017-05-15","v":40},{"d":"2017-06-01","v":35},{"d":"2017-06-15","v":33},{"d":"2017-07-01","v":36},{"d":"2017-07-15","v":34},{"d":"2017-08-01","v":38},{"d":"2017-08-15","v":42},{"d":"2017-09-01","v":40},{"d":"2017-09-15","v":44},{"d":"2017-10-01","v":46},{"d":"2017-10-15","v":43},{"d":"2017-11-01","v":47},{"d":"2017-11-15","v":50},{"d":"2017-12-01","v":48},{"d":"2017-12-15","v":56},
{"d":"2018-01-01","v":62},{"d":"2018-01-15","v":70},{"d":"2018-02-01","v":74},{"d":"2018-02-15","v":68},{"d":"2018-03-01","v":70},{"d":"2018-03-15","v":66},{"d":"2018-04-01","v":69},{"d":"2018-04-15","v":72},{"d":"2018-05-01","v":68},{"d":"2018-05-15","v":64},{"d":"2018-06-01","v":60},{"d":"2018-06-15","v":62},{"d":"2018-07-01","v":58},{"d":"2018-07-15","v":63},{"d":"2018-08-01","v":60},{"d":"2018-08-15","v":56},{"d":"2018-09-01","v":52},{"d":"2018-09-15","v":48},{"d":"2018-10-01","v":50},{"d":"2018-10-15","v":45},{"d":"2018-11-01","v":40},{"d":"2018-11-15","v":34},{"d":"2018-12-01","v":30},{"d":"2018-12-15","v":28},
{"d":"2019-01-01","v":28},{"d":"2019-01-15","v":31},{"d":"2019-02-01","v":34},{"d":"2019-02-15","v":38},{"d":"2019-03-01","v":44},{"d":"2019-03-15","v":50},{"d":"2019-04-01","v":54},{"d":"2019-04-15","v":49},{"d":"2019-05-01","v":45},{"d":"2019-05-15","v":38},{"d":"2019-06-01","v":35},{"d":"2019-06-15","v":39},{"d":"2019-07-01","v":43},{"d":"2019-07-15","v":40},{"d":"2019-08-01","v":36},{"d":"2019-08-15","v":41},{"d":"2019-09-01","v":38},{"d":"2019-09-15","v":42},{"d":"2019-10-01","v":37},{"d":"2019-10-15","v":41},{"d":"2019-11-01","v":39},{"d":"2019-11-15","v":44},{"d":"2019-12-01","v":42},{"d":"2019-12-15","v":48},
{"d":"2020-01-01","v":52},{"d":"2020-01-15","v":57},{"d":"2020-02-01","v":59},{"d":"2020-02-15","v":55},{"d":"2020-03-01","v":52},{"d":"2020-03-15","v":48},{"d":"2020-04-01","v":50},{"d":"2020-04-15","v":46},{"d":"2020-05-01","v":49},{"d":"2020-05-15","v":53},{"d":"2020-06-01","v":50},{"d":"2020-06-15","v":47},{"d":"2020-07-01","v":51},{"d":"2020-07-15","v":48},{"d":"2020-08-01","v":46},{"d":"2020-08-15","v":44},{"d":"2020-09-01","v":47},{"d":"2020-09-15","v":45},{"d":"2020-10-01","v":48},{"d":"2020-10-15","v":46},{"d":"2020-11-01","v":50},{"d":"2020-11-15","v":48},{"d":"2020-12-01","v":52},{"d":"2020-12-15","v":50},
{"d":"2021-01-01","v":53},{"d":"2021-01-15","v":51},{"d":"2021-02-01","v":52},{"d":"2021-02-15","v":50},{"d":"2021-03-01","v":53},{"d":"2021-03-15","v":51},{"d":"2021-04-01","v":52},{"d":"2021-04-15","v":50},{"d":"2021-05-01","v":53},{"d":"2021-05-15","v":51},{"d":"2021-06-01","v":49},{"d":"2021-06-15","v":53},{"d":"2021-07-01","v":51},{"d":"2021-07-15","v":47},{"d":"2021-08-01","v":45},{"d":"2021-08-15","v":42},{"d":"2021-09-01","v":40},{"d":"2021-09-15","v":43},{"d":"2021-10-01","v":38},{"d":"2021-10-15","v":35},{"d":"2021-11-01","v":37},{"d":"2021-11-15","v":42},{"d":"2021-12-01","v":39},{"d":"2021-12-15","v":41},
{"d":"2022-01-01","v":38},{"d":"2022-01-15","v":36},{"d":"2022-02-01","v":38},{"d":"2022-02-15","v":35},{"d":"2022-03-01","v":37},{"d":"2022-03-15","v":34},{"d":"2022-04-01","v":36},{"d":"2022-04-15","v":31},{"d":"2022-05-01","v":33},{"d":"2022-05-15","v":30},{"d":"2022-06-01","v":32},{"d":"2022-06-15","v":29},{"d":"2022-07-01","v":31},{"d":"2022-07-15","v":28},{"d":"2022-08-01","v":29},{"d":"2022-08-15","v":26},{"d":"2022-09-01","v":25},{"d":"2022-09-13","v":22}
     ]},
     "mark": {"type": "line", "color": "#c8432a", "strokeWidth": 2},
     "encoding": {
       "x": {"field": "d", "type": "temporal", "scale": {"type": "utc", "domain": ["2008-01-01", "2022-09-15"]},
             "axis": {"format": "%Y", "tickCount": {"interval": "year", "step": 1}, "labelAngle": -45, "labelAlign": "right", "labelBaseline": "top", "offset": -17.26, "domain": false, "ticks": true, "tickSize": 3, "tickColor": "#888888", "labelFontSize": 8, "labelColor": "#333333", "labelPadding": 2}},
       "y": {"field": "v", "type": "quantitative", "scale": {"domain": [-10, 80]},
             "axis": {"values": [-10, 0, 10, 20, 30, 40, 50, 60, 70, 80], "domain": true, "domainColor": "#000000", "ticks": true, "tickSize": 3, "tickColor": "#000000", "labelFontSize": 8, "labelColor": "#333333", "labelPadding": 3}}
     }}
  ], "spacing": 0, "bounds": "flush"},
  {"width": 1, "height": 170, "data": {"values": []}, "mark": "point", "encoding": {}},
  {"hconcat": [
    {"width": 45, "height": 1.2, "data": {"values": []}, "mark": "point", "encoding": {}},
    {"width": 307, "height": 1.2, "data": {"values": []}, "mark": "point", "encoding": {}, "view": {"fill": "#666666"},
     "title": {"text": "资料来源：Wind，光大证券研究所整理 数据截至 2022-09-13", "orient": "bottom", "offset": 2, "fontSize": 8, "fontWeight": "normal", "color": "#333333"}},
    {"width": 20, "height": 1.2, "data": {"values": []}, "mark": "point", "encoding": {}},
    {"width": 308, "height": 1.2, "data": {"values": []}, "mark": "point", "encoding": {}, "view": {"fill": "#666666"},
     "title": {"text": "资料来源：Wind，光大证券研究所整理 数据截至 2022-09-13", "orient": "bottom", "offset": 2, "fontSize": 8, "fontWeight": "normal", "color": "#333333"}}
  ], "spacing": 0, "bounds": "flush"},
  {"width": 1, "height": 126, "data": {"values": []}, "mark": "point", "encoding": {}},
  {"hconcat": [
    {"width": 300, "height": 26, "data": {"values": []}, "mark": "point", "encoding": {}, "view": {"fill": "#c8432a"},
     "title": {"text": "敬请参阅最后一页特别声明", "orient": "top", "anchor": "start", "offset": -18, "dx": 45, "fontSize": 10, "fontWeight": "normal", "color": "#ffffff"}},
    {"width": 124, "height": 26, "data": {"values": []}, "mark": "point", "encoding": {}, "view": {"fill": "#c8432a"},
     "title": {"text": "-4-", "orient": "top", "anchor": "middle", "offset": -18, "fontSize": 10, "fontWeight": "normal", "color": "#ffffff", "font": "Liberation Sans"}},
    {"width": 300, "height": 26, "data": {"values": []}, "mark": "point", "encoding": {}, "view": {"fill": "#c8432a"},
     "title": {"text": "证券研究报告", "orient": "top", "anchor": "end", "offset": -18, "dx": -46, "fontSize": 10, "fontWeight": "normal", "color": "#ffffff"}}
  ], "spacing": 0, "bounds": "flush"},
  {"width": 1, "height": 26, "data": {"values": []}, "mark": "point", "encoding": {}}
]
}
